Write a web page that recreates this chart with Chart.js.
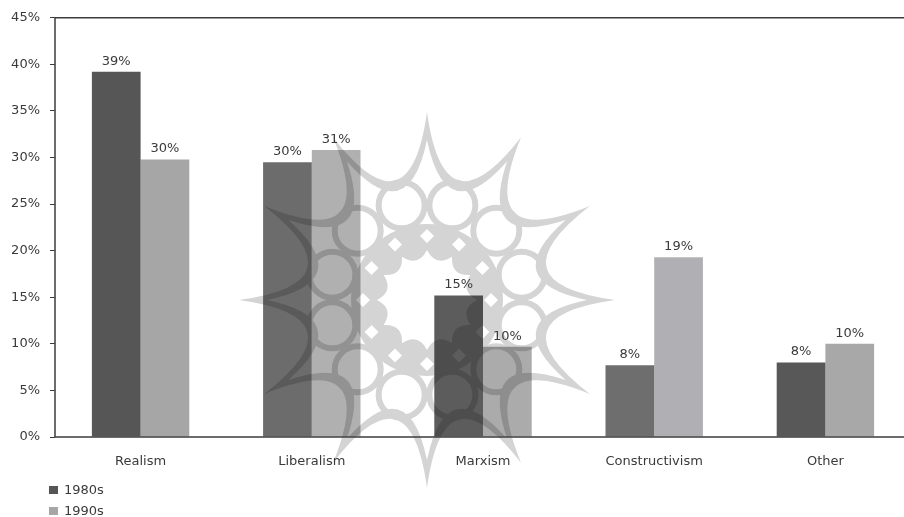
<!DOCTYPE html>
<html>
<head>
<meta charset="utf-8">
<script src="https://cdn.jsdelivr.net/npm/chart.js@4"></script>
<style>
  html, body { margin: 0; padding: 0; background: #fff; overflow: hidden; }
  #wrap { position: relative; width: 911px; height: 517px; filter: blur(0.5px); }
  #wrap canvas { display: block; }
  #legenda { position: absolute; left: 49px; top: 479px; font: 13px "DejaVu Sans"; color: #3a3a3a; }
  #legenda div { height: 21px; line-height: 21px; white-space: nowrap; }
  #legenda span { display: inline-block; width: 9px; height: 8px; margin-right: 6px; }
</style>
</head>
<body>
<div id="wrap">
  <canvas id="grafico" width="911" height="517"></canvas>
  <div id="legenda"></div>
</div>
<script>
const categorias = ["Realism", "Liberalism", "Marxism", "Constructivism", "Other"];
const valores1980 = [39.2, 29.5, 15.2, 7.7, 8.0];
const valores1990 = [29.8, 30.8, 9.7, 19.3, 10.0];
const cores1980 = ['#565656', '#6c6c6c', '#5c5c5c', '#6e6e6e', '#585858'];
const cores1990 = ['#a6a6a6', '#b0b0b0', '#ababab', '#b0b0b4', '#a8a8a8'];
const corTexto = '#3a3a3a';
const fonte = 'DejaVu Sans';

// rotulos em cima das barras
const rotulosBarras = {
    id: 'rotulosBarras',
    afterDatasetsDraw(chart) {
        const ctx = chart.ctx;
        ctx.save();
        ctx.font = '13px "' + fonte + '"';
        ctx.fillStyle = corTexto;
        ctx.textAlign = 'center';
        ctx.textBaseline = 'bottom';
        chart.data.datasets.forEach((ds, i) => {
            chart.getDatasetMeta(i).data.forEach((bar, j) => {
                ctx.fillText(Math.round(ds.data[j]) + '%', bar.x, bar.y - 4);
            });
        });
        ctx.restore();
    }
};

// borda esquerda, topo e base do grafico
const bordaGrafico = {
    id: 'bordaGrafico',
    afterDatasetsDraw(chart) {
        const a = chart.chartArea;
        const ctx = chart.ctx;
        ctx.save();
        ctx.strokeStyle = '#3c3c3c';
        ctx.lineWidth = 1.5;
        ctx.beginPath();
        ctx.moveTo(a.right, a.top);
        ctx.lineTo(a.left, a.top);
        ctx.lineTo(a.left, a.bottom);
        ctx.lineTo(a.right, a.bottom);
        ctx.stroke();
        ctx.restore();
    }
};

// contorno recortado com 12 pontas
function contornoPontas(ctx, cx, cy, rPonta, rVale) {
    for (let i = 0; i < 12; i++) {
        const a0 = i * Math.PI / 6;
        const a1 = a0 + Math.PI / 6;
        const meio = a0 + Math.PI / 12;
        if (i === 0) ctx.moveTo(cx + rPonta * Math.cos(a0), cy + rPonta * Math.sin(a0));
        ctx.quadraticCurveTo(
            cx + rVale * Math.cos(meio), cy + rVale * Math.sin(meio),
            cx + rPonta * Math.cos(a1), cy + rPonta * Math.sin(a1)
        );
    }
    ctx.closePath();
}

// marca d'agua em roseta que aparece no fundo da imagem original
function desenhaRoseta(largura, altura) {
    const tela = document.createElement('canvas');
    tela.width = largura;
    tela.height = altura;
    const ctx = tela.getContext('2d');
    const cx = 427, cy = 300;
    ctx.fillStyle = '#d4d4d4';
    ctx.strokeStyle = '#d4d4d4';

    ctx.beginPath();
    contornoPontas(ctx, cx, cy, 188, 66);
    contornoPontas(ctx, cx, cy, 160, 72);
    ctx.fill('evenodd');

    ctx.lineWidth = 6;
    for (let i = 0; i < 12; i++) {
        const a = (i + 0.5) * Math.PI / 6;
        ctx.beginPath();
        ctx.arc(cx + 98 * Math.cos(a), cy + 98 * Math.sin(a), 23, 0, Math.PI * 2);
        ctx.stroke();
    }

    ctx.beginPath();
    ctx.arc(cx, cy, 76, 0, Math.PI * 2);
    contornoPontas(ctx, cx, cy, 50, 34);
    for (let i = 0; i < 12; i++) {
        const a = i * Math.PI / 6;
        const x = cx + 64 * Math.cos(a), y = cy + 64 * Math.sin(a);
        ctx.moveTo(x - 7, y);
        ctx.lineTo(x, y - 7);
        ctx.lineTo(x + 7, y);
        ctx.lineTo(x, y + 7);
        ctx.closePath();
    }
    ctx.fill('evenodd');
    return tela;
}

const marcaDagua = {
    id: 'marcaDagua',
    afterDatasetsDraw(chart) {
        const ctx = chart.ctx;
        ctx.save();
        ctx.globalCompositeOperation = 'multiply';
        ctx.drawImage(desenhaRoseta(chart.width, chart.height), 0, 0);
        ctx.restore();
    }
};

const grafico = new Chart(document.getElementById('grafico'), {
    type: 'bar',
    data: {
        labels: categorias,
        datasets: [
            { label: '1980s', data: valores1980, backgroundColor: cores1980 },
            { label: '1990s', data: valores1990, backgroundColor: cores1990 }
        ]
    },
    options: {
        responsive: false,
        animation: false,
        devicePixelRatio: 1,
        layout: { padding: { left: 0, right: 0, top: 17, bottom: 40 } },
        datasets: { bar: { categoryPercentage: 0.569, barPercentage: 1 } },
        plugins: {
            legend: { display: false },
            tooltip: { enabled: false }
        },
        scales: {
            x: {
                afterFit: scale => { scale.height = 40; },
                grid: { display: false },
                border: { display: false },
                ticks: { color: corTexto, padding: 9, maxRotation: 0, autoSkip: false, font: { family: fonte, size: 13 } }
            },
            y: {
                min: 0,
                max: 45,
                afterFit: scale => { scale.width = 55; },
                grid: { drawOnChartArea: false, drawTicks: true, tickLength: 5, color: '#3c3c3c', lineWidth: 1 },
                border: { display: false },
                ticks: {
                    stepSize: 5,
                    color: corTexto,
                    padding: 10,
                    font: { family: fonte, size: 13 },
                    callback: v => v + '%'
                }
            }
        }
    },
    plugins: [marcaDagua, rotulosBarras, bordaGrafico]
});

// legenda empilhada no canto inferior esquerdo
grafico.data.datasets.forEach(ds => {
    const linha = document.createElement('div');
    const caixa = document.createElement('span');
    caixa.style.background = ds.backgroundColor[0];
    linha.appendChild(caixa);
    linha.appendChild(document.createTextNode(ds.label));
    document.getElementById('legenda').appendChild(linha);
});
</script>
</body>
</html>
